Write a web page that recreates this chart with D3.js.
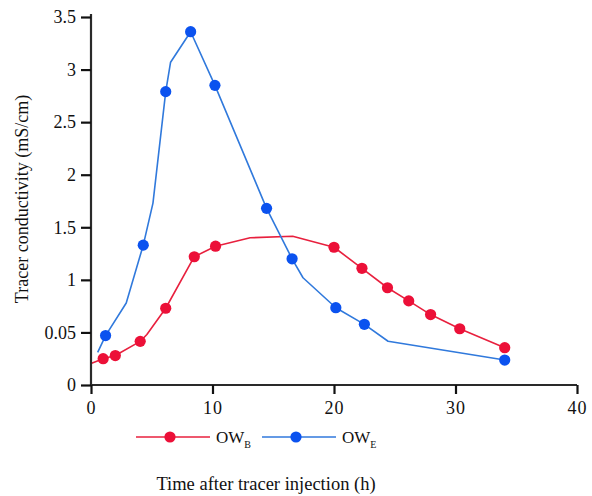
<!DOCTYPE html>
<html>
<head>
<meta charset="utf-8">
<script src="https://cdn.jsdelivr.net/npm/d3@7"></script>
<style>
  html, body { margin: 0; padding: 0; background: #fff; }
  svg { display: block; }
  text { font-family: "Liberation Serif", "Times New Roman", serif; fill: #111; }
</style>
</head>
<body>
<svg id="chart" width="592" height="496"></svg>
<script>
// ---- data ----
const xTicks = [0, 10, 20, 30, 40];
const yTicks = [0, 0.5, 1, 1.5, 2, 2.5, 3, 3.5];
const yTickLabels = ["0", "0.05", "1", "1.5", "2", "2.5", "3", "3.5"];

// OW_B (red)
const owBTime   = [0, 1.0, 2.0, 4.05, 4.6, 6.15, 8.5, 10.25, 13.1, 16.6, 20.0, 22.3, 24.4, 26.15, 27.95, 30.35, 34.05];
const owBCond   = [0.205, 0.25, 0.28, 0.415, 0.48, 0.73, 1.22, 1.32, 1.40, 1.415, 1.31, 1.11, 0.925, 0.80, 0.67, 0.535, 0.355];
const owBMarker = [0, 1, 1, 1, 0, 1, 1, 1, 0, 0, 1, 1, 1, 1, 1, 1, 1];

// OW_E (blue)
const owETime   = [0.55, 1.2, 2.9, 4.3, 5.1, 6.15, 6.55, 8.2, 10.2, 14.45, 16.55, 17.45, 20.15, 22.5, 24.45, 34.05];
const owECond   = [0.31, 0.47, 0.78, 1.33, 1.73, 2.79, 3.07, 3.36, 2.85, 1.68, 1.20, 1.02, 0.735, 0.577, 0.416, 0.237];
const owEMarker = [0, 1, 0, 1, 0, 1, 0, 1, 1, 1, 1, 0, 1, 1, 0, 1];

const seriesNames = ["OW", "OW"];
const seriesSubs = ["B", "E"];
const xTitle = "Time after tracer injection (h)";
const yTitle = "Tracer conductivity (mS/cm)";

// ---- drawing ----
const svg = d3.select("#chart");
const x = d3.scaleLinear().domain([0, 40]).range([91, 577]);
const y = d3.scaleLinear().domain([0, 3.5]).range([385, 17]);

const series = [
  { name: seriesNames[0], sub: seriesSubs[0], line: "#e8203e", dot: "#ec1038",
    pts: owBTime.map((t, i) => ({ t, c: owBCond[i], m: owBMarker[i] })) },
  { name: seriesNames[1], sub: seriesSubs[1], line: "#3079dc", dot: "#0b52ef",
    pts: owETime.map((t, i) => ({ t, c: owECond[i], m: owEMarker[i] })) }
];

const line = d3.line().x(d => x(d.t)).y(d => y(d.c));

series.forEach(s => {
  svg.append("path").datum(s.pts)
    .attr("d", line).attr("fill", "none")
    .attr("stroke", s.line).attr("stroke-width", 1.6)
    .attr("stroke-linejoin", "round");
});
series.forEach(s => {
  svg.append("g").selectAll("circle").data(s.pts.filter(d => d.m))
    .join("circle")
    .attr("cx", d => x(d.t)).attr("cy", d => y(d.c)).attr("r", 5.6)
    .attr("fill", s.dot);
});

// axes
const xAxis = svg.append("g").attr("transform", "translate(0,385)")
  .call(d3.axisBottom(x).tickValues(xTicks).tickSize(9).tickPadding(7).tickFormat(d3.format("d")));
const yAxis = svg.append("g").attr("transform", "translate(91,0)")
  .call(d3.axisLeft(y).tickValues(yTicks).tickSize(10).tickPadding(5)
    .tickFormat((d, i) => yTickLabels[i]));

[xAxis, yAxis].forEach(a => {
  a.select(".domain").attr("stroke", "#2a2a2a").attr("stroke-width", 2.2);
  a.selectAll(".tick line").attr("stroke", "#111").attr("stroke-width", 2.2);
  a.selectAll(".tick text").attr("font-family", "Liberation Serif, serif")
    .attr("font-size", 18).attr("fill", "#111");
});
xAxis.selectAll(".tick text").attr("letter-spacing", "1px");
xAxis.select(".domain").attr("d", "M91,0H577");
yAxis.select(".domain").attr("d", "M0,14V385");

// legend
const legX = [136, 262];
series.forEach((s, i) => {
  const g = svg.append("g");
  g.append("line").attr("x1", legX[i]).attr("x2", legX[i] + 74)
    .attr("y1", 437).attr("y2", 437).attr("stroke", s.line).attr("stroke-width", 1.6);
  g.append("circle").attr("cx", legX[i] + 34).attr("cy", 437).attr("r", 5.6).attr("fill", s.dot);
  const t = g.append("text").attr("x", legX[i] + 80).attr("y", 443).attr("font-size", 17);
  t.append("tspan").text(s.name);
  t.append("tspan").attr("font-size", 10).attr("dy", 5).text(s.sub);
});

// titles
svg.append("text").attr("x", 266).attr("y", 490).attr("text-anchor", "middle")
  .attr("font-size", 18.5).text(xTitle);
svg.append("text").attr("transform", "translate(28,199) rotate(-90)")
  .attr("text-anchor", "middle").attr("font-size", 18).text(yTitle);
</script>
</body>
</html>
